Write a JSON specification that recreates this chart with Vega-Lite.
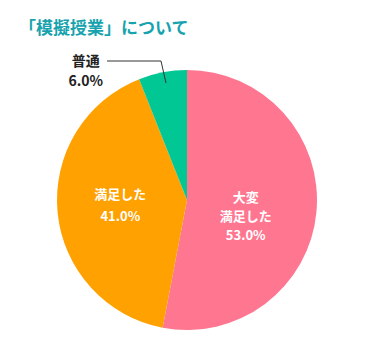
{
  "$schema": "https://vega.github.io/schema/vega-lite/v6.json",
  "autosize": "none",
  "width": 374,
  "height": 308,
  "padding": {"left": 0, "top": 46, "right": 10, "bottom": 0},
  "background": "white",
  "config": {"view": {"stroke": null}, "font": "Noto Sans CJK JP"},
  "title": {
    "text": "「模擬授業」について",
    "anchor": "start",
    "frame": "group",
    "fontSize": 17,
    "fontWeight": "bold",
    "color": "#17a3ad",
    "font": "Noto Sans CJK JP",
    "baseline": "middle",
    "offset": 0,
    "dx": 19
  },
  "datasets": {
    "pie": [
      {"idx": 1, "cat": "大変満足した", "value": 53.0, "label": ["大変", "満足した", "53.0%"]},
      {"idx": 2, "cat": "満足した", "value": 41.0, "label": ["満足した", "41.0%"]},
      {"idx": 3, "cat": "普通", "value": 6.0, "label": ["普通", "6.0%"]}
    ],
    "leader": [
      {"px": -80, "py": 139, "o": 1},
      {"px": -26, "py": 139, "o": 2},
      {"px": -21, "py": 117, "o": 3}
    ]
  },
  "layer": [
    {
      "data": {"name": "pie"},
      "mark": {"type": "arc", "outerRadius": 130},
      "encoding": {
        "theta": {"field": "value", "type": "quantitative", "stack": true},
        "order": {"field": "idx", "type": "quantitative"},
        "color": {
          "field": "cat",
          "type": "nominal",
          "scale": {"domain": ["大変満足した", "満足した", "普通"], "range": ["#ff7691", "#ffa100", "#00c794"]},
          "legend": null
        }
      }
    },
    {
      "data": {"name": "pie"},
      "mark": {"type": "text", "radius": 59, "dy": -8, "fontSize": 13, "fontWeight": "bold", "color": "white", "lineHeight": 19, "align": "center", "baseline": "middle"},
      "encoding": {
        "theta": {"field": "value", "type": "quantitative", "stack": true},
        "order": {"field": "idx", "type": "quantitative"},
        "text": {"condition": {"test": "datum.idx == 1", "field": "label"}, "value": ""}
      }
    },
    {
      "data": {"name": "pie"},
      "mark": {"type": "text", "radius": 67, "dy": -11, "fontSize": 13, "fontWeight": "bold", "color": "white", "lineHeight": 22, "align": "center", "baseline": "middle"},
      "encoding": {
        "theta": {"field": "value", "type": "quantitative", "stack": true},
        "order": {"field": "idx", "type": "quantitative"},
        "text": {"condition": {"test": "datum.idx == 2", "field": "label"}, "value": ""}
      }
    },
    {
      "data": {"name": "pie"},
      "mark": {"type": "text", "radius": 140, "dx": -75, "dy": 0, "fontSize": 14, "fontWeight": "bold", "color": "#222222", "lineHeight": 20, "align": "center", "baseline": "middle"},
      "encoding": {
        "theta": {"field": "value", "type": "quantitative", "stack": true},
        "order": {"field": "idx", "type": "quantitative"},
        "text": {"condition": {"test": "datum.idx == 3", "field": "label"}, "value": ""}
      }
    },
    {
      "data": {"name": "leader"},
      "mark": {"type": "line", "color": "#333333", "strokeWidth": 1},
      "encoding": {
        "x": {"field": "px", "type": "quantitative", "scale": {"domain": [-187, 187]}, "axis": null},
        "y": {"field": "py", "type": "quantitative", "scale": {"domain": [-154, 154]}, "axis": null},
        "order": {"field": "o"}
      }
    }
  ]
}
